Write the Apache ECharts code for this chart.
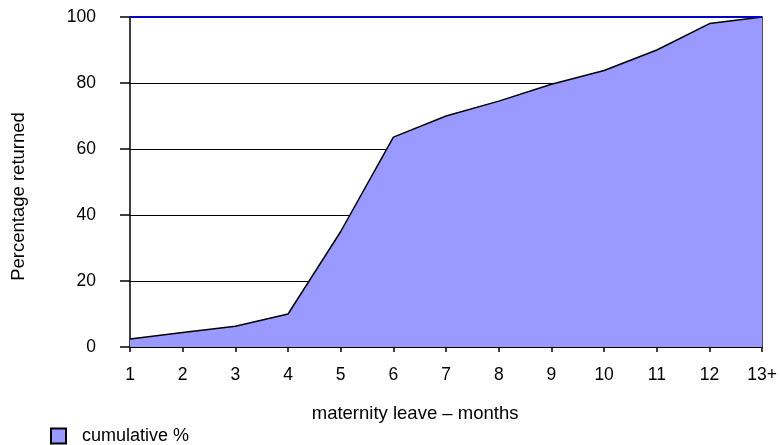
<!DOCTYPE html>
<html>
<head>
<meta charset="utf-8">
<script src="https://cdn.jsdelivr.net/npm/echarts@6/dist/echarts.min.js"></script>
<style>
html, body { margin: 0; padding: 0; background: #fff; }
#chart { width: 780px; height: 445px; }
</style>
</head>
<body>
<div id="chart"></div>
<script>
var months = ['1', '2', '3', '4', '5', '6', '7', '8', '9', '10', '11', '12', '13+'];
var cumulative = [2.4, 4.4, 6.3, 10, 35, 63.6, 70, 74.5, 79.6, 83.8, 90, 98, 100];
var yTicks = [0, 20, 40, 60, 80, 100];

var chart = echarts.init(document.getElementById('chart'));
var font = 'Liberation Sans, Arial, sans-serif';
chart.setOption({
    animation: false,
    textStyle: { fontFamily: font },
    grid: { left: 130, right: 14, top: 17, bottom: 98 },
    legend: {
        left: 50,
        top: 427,
        padding: 0,
        itemWidth: 15,
        itemHeight: 15,
        textStyle: { fontSize: 18, color: '#000', fontFamily: font, padding: [0, 0, 0, 11] },
        data: [{ name: 'cumulative %', icon: 'rect' }]
    },
    xAxis: {
        type: 'category',
        data: months,
        boundaryGap: false,
        name: 'maternity leave \u2013 months',
        nameLocation: 'middle',
        nameGap: 57,
        nameTextStyle: { fontSize: 18.5, color: '#000', padding: [0, 62, 0, 0] },
        axisLine: { lineStyle: { color: '#000', width: 1.5 } },
        axisTick: { show: true, length: 5, lineStyle: { color: '#000', width: 1.5 } },
        axisLabel: { fontSize: 17.5, color: '#000', margin: 19 },
        splitLine: { show: false }
    },
    yAxis: [{
        type: 'value',
        min: 0,
        max: 100,
        interval: 20,
        name: 'Percentage returned',
        nameLocation: 'middle',
        nameGap: 102,
        nameTextStyle: { fontSize: 18.5, color: '#000', padding: [0, 29, 0, 0] },
        axisLine: { show: true, lineStyle: { color: '#000', width: 1.5 } },
        axisTick: { show: true, length: 10, lineStyle: { color: '#000', width: 1.5 } },
        axisLabel: {
            fontSize: 17.5, color: '#000', margin: 34,
            formatter: function (v) { return yTicks.indexOf(v) >= 0 ? String(v) : ''; }
        },
        splitLine: { show: true, lineStyle: { color: '#000', width: 1 } }
    }, {
        type: 'value',
        min: 0,
        max: 100,
        position: 'right',
        axisLine: { show: true, lineStyle: { color: '#000', width: 1.5 } },
        axisTick: { show: false },
        axisLabel: { show: false },
        splitLine: { show: false }
    }],
    series: [{
        name: 'cumulative %',
        type: 'line',
        data: cumulative,
        symbol: 'none',
        itemStyle: { color: '#9999ff', borderColor: '#000', borderWidth: 1 },
        lineStyle: { color: '#000', width: 1.5 },
        areaStyle: { color: '#9999ff', opacity: 1 },
        markLine: {
            silent: true,
            symbol: 'none',
            label: { show: false },
            lineStyle: { color: '#0000c8', width: 2, type: 'solid' },
            data: [{ yAxis: 100 }]
        }
    }]
});
</script>
</body>
</html>
